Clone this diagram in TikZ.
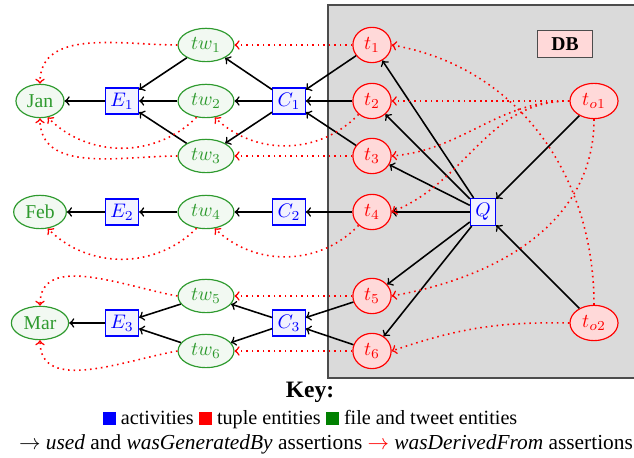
\documentclass[tikz,border=0pt]{standalone}
\usepackage[no-math]{fontspec}
\setmainfont{Liberation Serif}
\usepackage{xcolor}
\usepackage{tikz}
\usetikzlibrary{shapes,arrows}
\definecolor{provblue}{HTML}{0000FF}
\definecolor{provred}{HTML}{FF0000}
\definecolor{provgreen}{HTML}{2E9A2E}
\definecolor{keygreen}{HTML}{008000}
\definecolor{dbgray}{HTML}{DADADA}
\newcommand{\keysq}[1]{\textcolor{#1}{\rule{6.7pt}{6.7pt}}}
\tikzset{
    act/.style={rectangle, draw=provblue, fill=provblue!5, text=provblue, semithick, inner sep=2.5pt, minimum height=13pt},
    ent/.style={ellipse, draw=provgreen, fill=provgreen!6, text=provgreen, semithick, inner sep=2pt, minimum height=17pt},
    tup/.style={ellipse, draw=provred, fill=provred!15, text=provred, semithick, inner sep=1pt, minimum width=19.5pt, minimum height=18pt},
    dbbox/.style={rectangle, draw=black!70, fill=provred!15, semithick, font=\bfseries, minimum width=28pt, minimum height=14pt},
    usedarrow/.style={->, thick},
    derivedarrow/.style={->, thick, dotted, provred}
}

\begin{document}
\begin{tikzpicture}[x=0.51pt, y=0.51pt]
    \useasboundingbox (0,0) rectangle (634,-458);

    % Database
    \draw[fill=dbgray, draw=black!70, line width=0.8pt] (328,-5) rectangle (640,-378);
    \node[dbbox] (db) at (565,-44) {DB};

    % Tuple entities
    \node[tup] (t1) at (372,-45) {$t_1$};
    \node[tup] (t2) at (372,-101) {$t_2$};
    \node[tup] (t3) at (372,-156) {$t_3$};
    \node[tup] (t4) at (372,-212) {$t_4$};
    \node[tup] (t5) at (372,-296) {$t_5$};
    \node[tup] (t6) at (372,-351) {$t_6$};
    \node[tup, minimum width=24.5pt] (to1) at (594,-101) {$t_{o1}$};
    \node[tup, minimum width=24.5pt] (to2) at (594,-323) {$t_{o2}$};

    % Query
    \node[act] (q) at (483,-212) {$Q$};

    % Activities
    \node[act] (c1) at (289,-101) {$C_1$};
    \node[act] (c2) at (289,-212) {$C_2$};
    \node[act] (c3) at (289,-323) {$C_3$};
    \node[act] (e1) at (122,-101) {$E_1$};
    \node[act] (e2) at (122,-212) {$E_2$};
    \node[act] (e3) at (122,-323) {$E_3$};

    % Tweet entities
    \node[ent, minimum width=28.5pt] (tw1) at (206,-45) {$tw_1$};
    \node[ent, minimum width=28.5pt] (tw2) at (206,-101) {$tw_2$};
    \node[ent, minimum width=28.5pt] (tw3) at (206,-156) {$tw_3$};
    \node[ent, minimum width=28.5pt] (tw4) at (206,-212) {$tw_4$};
    \node[ent, minimum width=28.5pt] (tw5) at (206,-296) {$tw_5$};
    \node[ent, minimum width=28.5pt] (tw6) at (206,-351) {$tw_6$};

    % File entities
    \node[ent] (jan) at (40,-101) {Jan};
    \node[ent] (feb) at (40,-212) {Feb};
    \node[ent] (mar) at (40,-323) {Mar};

    % used and wasGeneratedBy
    \draw[usedarrow] (to1) -- (q);
    \draw[usedarrow] (to2) -- (q);
    \draw[usedarrow] (q) -- (t1);
    \draw[usedarrow] (q) -- (t2);
    \draw[usedarrow] (q) -- (t3);
    \draw[usedarrow] (q) -- (t4);
    \draw[usedarrow] (q) -- (t5);
    \draw[usedarrow] (q) -- (t6);
    \draw[usedarrow] (t1) -- (c1);
    \draw[usedarrow] (t2) -- (c1);
    \draw[usedarrow] (t3) -- (c1);
    \draw[usedarrow] (t4) -- (c2);
    \draw[usedarrow] (t5) -- (c3);
    \draw[usedarrow] (t6) -- (c3);
    \draw[usedarrow] (c1) -- (tw1);
    \draw[usedarrow] (c1) -- (tw2);
    \draw[usedarrow] (c1) -- (tw3);
    \draw[usedarrow] (c2) -- (tw4);
    \draw[usedarrow] (c3) -- (tw5);
    \draw[usedarrow] (c3) -- (tw6);
    \draw[usedarrow] (tw1) -- (e1);
    \draw[usedarrow] (tw2) -- (e1);
    \draw[usedarrow] (tw3) -- (e1);
    \draw[usedarrow] (tw4) -- (e2);
    \draw[usedarrow] (tw5) -- (e3);
    \draw[usedarrow] (tw6) -- (e3);
    \draw[usedarrow] (e1) -- (jan);
    \draw[usedarrow] (e2) -- (feb);
    \draw[usedarrow] (e3) -- (mar);

    % wasDerivedFrom
    \draw[derivedarrow] (to1) -- (t2);
    \draw[derivedarrow] (to1.west) to[out=180, in=5] (t3.east);
    \draw[derivedarrow] (to1.west) to[out=180, in=22] (t4.east);
    \draw[derivedarrow] (to1.south) to[out=-90, in=10] (t5.east);
    \draw[derivedarrow] (to2.north) to[out=90, in=-10] (t1.east);
    \draw[derivedarrow] (to2.west) to[bend right=10] (t6.east);
    \draw[derivedarrow] (t1) -- (tw1);
    \draw[derivedarrow] (t2.-135) to[bend left=45] (tw2.-62);
    \draw[derivedarrow] (t3) -- (tw3);
    \draw[derivedarrow] (t4.-135) to[bend left=45] (tw4.-62);
    \draw[derivedarrow] (t5) -- (tw5);
    \draw[derivedarrow] (t6) -- (tw6);
    \draw[derivedarrow] (tw1.west) to[out=180, in=90] (jan.north);
    \draw[derivedarrow] (tw2.-120) to[bend left=45] (jan.-65);
    \draw[derivedarrow] (tw3.west) to[out=180, in=-90] (jan.south);
    \draw[derivedarrow] (tw4.-120) to[bend left=45] (feb.-65);
    \draw[derivedarrow] (tw5.west) to[out=170, in=90] (mar.north);
    \draw[derivedarrow] (tw6.west) to[out=190, in=-90] (mar.south);

    % Key
    \node[font=\large\bfseries] (keytitle) at (310,-392) {Key:};
    \node[font=\fontsize{10.3}{12}\selectfont] (keycolours) at (310,-420) {\keysq{provblue} activities \keysq{provred} tuple entities \keysq{keygreen} file and tweet entities};
    \node[font=\fontsize{10.9}{13}\selectfont] (keyarrows) at (326,-444) {$\rightarrow$ \emph{used} and \emph{wasGeneratedBy} assertions \textcolor{provred}{$\rightarrow$} \emph{wasDerivedFrom} assertions};
\end{tikzpicture}
\end{document}
